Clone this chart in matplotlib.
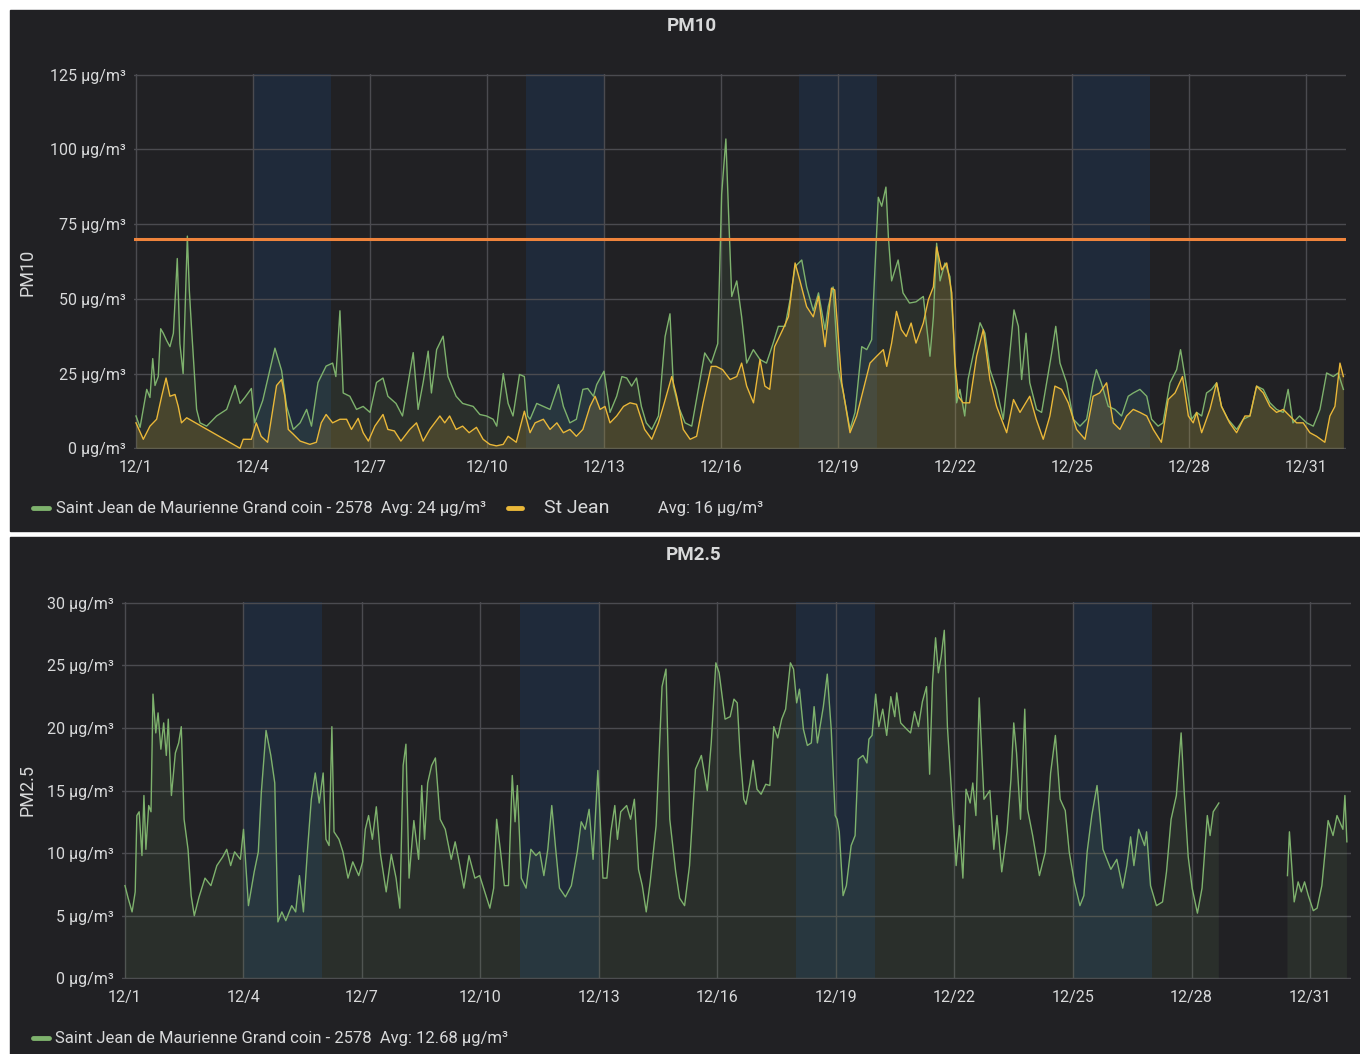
import numpy as np
import pandas as pd
import matplotlib
matplotlib.use("Agg")
import matplotlib.pyplot as plt
import matplotlib.dates as mdates
from matplotlib.lines import Line2D
from matplotlib.patches import Rectangle
from matplotlib.ticker import FixedLocator, FuncFormatter

plt.rcParams["font.family"] = ["Roboto", "DejaVu Sans"]

W, H = 1360, 1054
t0 = pd.Timestamp("2021-12-01 00:00")

# PM10 - Saint Jean de Maurienne Grand coin (hours since 12/1, value)
pm10_green_h = [0, 2.5, 6.6, 8.6, 10.3, 11.7, 13.7, 15.2, 16.8, 18.9, 20.9, 23, 25.4, 27, 29, 31.6, 32.8, 34.2,
                37.3, 39.4, 43.5, 49.6, 55.8, 61, 64, 67, 71, 73, 78, 85.5, 89.6, 92.7, 96.8, 101, 105, 108,
                112, 117, 121, 123, 125.5, 127.5, 131.6, 135.7, 139.8, 144, 148, 152, 155, 160, 164, 170.6,
                173.6, 176.7, 179.8, 181.8, 185, 189, 192, 197, 201, 207.5, 211.6, 215.7, 219.8, 222, 226,
                229, 232, 236, 239, 241, 242.5, 246.6, 250.7, 254.8, 260, 263, 267, 271, 275, 278, 281.5,
                283.5, 288, 291.7, 295.8, 299, 302, 305, 308, 311, 314, 317.4, 321.5, 325.6, 328.6, 330.7,
                333.8, 337.9, 342, 346, 350, 354, 358, 360.4, 363, 364.5, 366.6, 369.7, 372.7, 375.8, 379.9,
                384, 388, 392, 395.3, 399.4, 402.5, 405.6, 409.7, 412.7, 416.8, 420, 424, 426, 429, 432.2,
                435.3, 439.4, 442.5, 446.6, 449.7, 452.7, 456.8, 458.9, 461.5, 463, 465, 469, 472, 476, 480,
                484.5, 488.6, 490.7, 492.7, 494.8, 497.8, 500.9, 503, 505, 507, 510, 512, 515, 519.4, 522.4,
                525.5, 529.6, 533.7, 536.8, 540.3, 543, 545, 547.7, 550, 554.2, 557.3, 560.4, 563.5, 566,
                568.6, 572.7, 576.8, 580.9, 585, 589, 591, 594, 598.3, 602.4, 606.5, 610.6, 613.7, 617.8,
                622, 625, 629, 632, 636.3, 640.4, 642.8, 645.5, 649.6, 652.7, 655.8, 658.8, 661.9, 665, 668,
                672, 677.3, 681.4, 685.5, 689.6, 693.7, 697.8, 701.9, 706, 709, 712, 716, 720.4, 724.5,
                728.6, 732.7, 736.8, 739.8, 743]
pm10_green_v = [10.8, 7, 19.7, 17, 30, 21, 24, 40, 38.5, 36, 34, 38.5, 63.5, 35, 25, 71, 53, 40,
                13, 8.5, 7.4, 10.8, 13, 21, 15, 17, 20, 8.5, 16, 33.5, 26, 14, 6.3, 8.5, 13, 7.4,
                22, 27.5, 28.5, 24, 46, 18.5, 17.4, 13, 14, 12, 22, 23.5, 17.4, 15, 10.8, 32,
                13, 22, 32.5, 18.5, 33, 37.5, 24, 17.4, 15, 14, 11.3, 10.8, 9.7, 7.4, 25,
                15, 10.8, 24.7, 24, 10.8, 9.7, 15, 14, 13, 21.3, 14, 8.5, 9.7, 19.7, 20, 17.4,
                21.3, 25.8, 12, 17.4, 24, 23.5, 20.8, 23.5, 14, 8.5, 6.3, 10.8, 37.4, 45, 20.8,
                14, 8.5, 7.4, 19.7, 31.9, 28.5, 35, 85, 103.5, 81, 50.8, 56, 44, 28.5, 33,
                29.7, 28.5, 35, 40.8, 40.8, 49.7, 60.8, 63, 54, 46, 52, 39.7, 47.4, 54, 26.3,
                18.5, 6.3, 12, 34, 33, 36.3, 84, 81, 87.4, 70.8, 56, 63, 52, 48.6, 49,
                50.8, 30.8, 44, 68.6, 56, 62, 57.4, 39.7, 15.2, 19.7, 10.8, 23, 30.8, 42, 38.5,
                26.3, 19.7, 9.7, 26.3, 46.3, 40.8, 23, 38.5, 21.9, 13, 12, 21.9, 31.9, 40.8,
                28.5, 21.9, 9.7, 7.4, 9.7, 21.9, 26.3, 21.9, 14, 13, 10.8, 17.4, 18.5, 19.7,
                17.4, 9.7, 7.4, 8.5, 21.9, 26.3, 33, 24, 9.7, 12, 10.8, 18.5, 19.7, 21.9, 14,
                9.7, 6.3, 9.7, 10.8, 20.8, 19.7, 15.2, 13, 12, 19.7, 8.5, 10.8, 8.5, 7.4,
                13, 25.2, 24, 25.2, 19.7]

# PM10 - St Jean
pm10_yellow_h = [0, 4.5, 8.6, 12.7, 15.8, 18.5, 20.9, 24, 26, 28, 31.2, 64, 66, 71, 74, 77, 81, 86.5, 89.6,
                 91.6, 93.7, 96.8, 101, 107, 111, 114, 117, 121, 125.5, 129.6, 132.6, 136.7, 139.8, 143, 147,
                 152, 155, 159, 163, 168.5, 172.6, 176.7, 180.8, 187, 190, 193, 197, 201, 205, 209.5, 213.6,
                 217.7, 221.8, 226, 229, 234, 239, 242.5, 245.6, 250.7, 254.8, 259, 263, 267, 271, 275,
                 279.4, 282.5, 285.6, 288.6, 291.7, 295.8, 300, 304, 308, 313, 317.4, 321.5, 324.5, 329.7,
                 332.7, 336.8, 341, 345, 349, 354, 357, 361, 365.6, 369.7, 372.7, 375.8, 380, 384, 387, 390,
                 393, 398, 401.5, 405.6, 408.6, 412.7, 416.8, 420, 424, 428, 430, 434.3, 439.4, 443.5, 447.6,
                 451.7, 455.8, 459.9, 462, 465, 468, 471, 474, 477, 480, 484.5, 487.6, 490.7, 492.7, 495.8,
                 498.9, 502, 504, 506, 509, 513, 517.3, 521.4, 525.5, 529.6, 535.8, 540, 544, 550, 554,
                 558.3, 562.4, 565.5, 569.6, 573.7, 578.8, 584, 589, 593, 597.3, 601.4, 605.5, 609.6, 613.7,
                 617.8, 622, 626, 631, 635.2, 639.4, 644, 647.6, 650.6, 652.7, 655.8, 660.9, 665, 668, 673,
                 677.3, 682.4, 685.5, 689.6, 693.7, 697.8, 701.9, 706, 710, 714.2, 718.3, 722.4, 726.5,
                 731.6, 734.7, 737.8, 740.9, 743]
pm10_yellow_v = [8.5, 3, 7.4, 9.7, 17.4, 23.5, 17.4, 18, 14, 8.5, 10.2, 0, 3, 3, 8.5, 4, 2, 21, 23,
                 17.4, 6.3, 4.7, 2.4, 1.3, 2, 8.5, 11.3, 8.5, 9.7, 9.7, 6.3, 10, 5.2, 2.4, 7.4,
                 11.3, 6.3, 5.8, 2.4, 6.3, 8.5, 2.4, 6.3, 10.8, 8.5, 10.8, 6.3, 7.4, 5.2, 7, 3,
                 1.3, 0.8, 1.3, 4, 2, 12.4, 5.2, 8.5, 9.7, 6.3, 8.5, 5.2, 6.3, 4, 6.3,
                 14, 17.4, 13, 14, 8.5, 10.8, 14, 15.2, 14.7, 6.3, 3, 8.5, 14, 24,
                 17.4, 6.3, 3, 4, 15.2, 27.4, 27.4, 26.3, 23, 24, 28.5, 20.8, 15.2, 29.7, 20.8, 19.7,
                 34, 39.7, 44, 62, 56, 47.4, 44, 50.8, 34, 53.6, 53, 22, 5.2, 10.8, 19.7,
                 28.5, 30.8, 33, 27.4, 35.2, 45.8, 39.7, 37.4, 41.9, 35.2, 41.9, 49.7, 54, 67.4, 59.7,
                 62, 52, 28.5, 17.4, 15.2, 15.2, 30.8, 39.7, 23, 14, 5.2, 16.3, 12, 17.4, 9.7,
                 3, 10.8, 20.8, 19.7, 15.2, 6.3, 3, 17.4, 18.5, 21.9, 8.5, 6.3, 10.8, 13,
                 12, 10.8, 6.3, 2, 16.3, 18.5, 24, 10.8, 8.5, 12, 5.2, 13, 21.9, 14, 8.5,
                 5.2, 10.8, 10.8, 20.8, 18.5, 14, 12, 13, 10.8, 8.5, 8.5, 5.2, 4,
                 2, 10.8, 14, 28.5, 24]

# PM2.5 - Saint Jean de Maurienne Grand coin (nan = no data)
pm25_h = [0, 1.9, 4.3, 6.2, 7.2, 8.6, 10.3, 11.5, 12.7, 14.4, 15.8, 17, 18.7, 20.1, 21.8, 23.5, 25.1, 26.3,
          28.2, 30.6, 32.6, 34.2, 35.9, 38.3, 40.2, 42.1, 45, 48.6, 52.2, 55.8, 59.4, 61.8, 64.2, 66.6,
          70.1, 72, 75, 78.5, 81, 82.8, 85.7, 88.6, 91, 92.9, 95.3, 97.7, 101.3, 103.7, 106, 108.4, 110.8,
          113.2, 115.6, 118, 120.4, 122.1, 124, 125.7, 127, 130, 132.4, 135.5, 138.4, 142, 144.4, 146,
          148, 150.3, 152.7, 155, 158.7, 161.8, 164.7, 167, 169, 170.7, 172.6, 175.5, 178.4, 180.3, 182,
          183.9, 186.3, 188.6, 191.5, 194.6, 198.2, 200.6, 203, 205.9, 209, 212.6, 215.5, 218.6, 221.7,
          224, 225.8, 228.2, 230.5, 233, 235.3, 237, 238.4, 240.8, 243.7, 246.6, 249.7, 252, 254.5,
          256.9, 259.3, 261.7, 264, 267.6, 271.2, 274.8, 277.2, 279.6, 282, 284.4, 287.3, 290.4, 292.8,
          295.2, 297.6, 299.2, 301.2, 304.8, 307.2, 309.5, 312, 314.3, 316.7, 319.1, 322.7, 326.3,
          328.7, 331, 334.6, 337, 340, 343, 346.6, 350.2, 353.8, 356.2, 359, 361, 364.6, 367.7, 370,
          372, 373.7, 376, 377.3, 379.7, 381.6, 384, 386.5, 389.3, 391.8, 394.2, 396.6, 399, 401.4,
          404.3, 406.2, 408.1, 409.8, 412.2, 414.6, 417, 418.7, 420.7, 424.3, 426.7, 429.1, 431.5,
          432.7, 434, 436.3, 438.3, 441.2, 443.6, 445.5, 448.4, 450.8, 452, 453.9, 456.1, 458, 460.4,
          462.8, 465.3, 467.7, 468.9, 471.3, 474.9, 477.3, 479.7, 482.1, 484.5, 487, 488.9, 490.6,
          492.5, 494.2, 495.9, 497.8, 499.7, 502.1, 505, 507, 509.1, 511, 513.5, 515.1, 517, 519,
          521.9, 525.5, 527.9, 529.8, 532.7, 535.9, 538.3, 540, 541.7, 544.1, 546.7, 548.4, 551.5,
          555.6, 559.2, 562.4, 565.3, 568.2, 571.3, 573.7, 576.8, 580.2, 582.6, 584.6, 587.4, 590.6,
          594.2, 596.6, 599, 602.6, 606.2, 608.7, 611, 613, 615.9, 619.5, 620.7, 623.1, 626.7, 630.4,
          632.8, 635.6, 638.8, 641.7, 643.6, 646, 648.4, 651.6, 654.4, 657.6, 659.3, 661.2, 664.6,
          685, 706.3, 707.5, 710.4, 712.8, 714.7, 716.7, 719, 722, 724.3, 727.2, 731, 734, 736.4, 740,
          741.2, 742.4]
pm25_v = [7.4, 6.4, 5.3, 6.9, 13, 13.3, 9.8, 14.6, 10.3, 13.8, 13.3, 22.7, 19.6, 21.2, 18.3, 20.4, 17.8, 20.7,
          14.6, 18, 18.8, 20.1, 12.7, 10.3, 6.6, 5, 6.5, 8, 7.4, 9, 9.7, 10.3, 9, 10.1,
          9.5, 11.9, 5.8, 8.5, 10.1, 14.8, 19.8, 17.8, 15.6, 4.5, 5.3, 4.6, 5.8, 5.3, 8.2, 5.3, 10.1,
          14.3, 16.4, 14, 16.4, 11.1, 10.6, 20.1, 11.7, 11.1, 10.1, 8, 9.3, 8.2, 9.3, 11.9,
          13, 11.1, 13.7, 10.1, 6.9, 9.9, 8, 5.6, 17, 18.7, 8, 12.6, 9.5, 15.4, 11.1,
          15.6, 17, 17.6, 12.7, 11.9, 9.5, 10.9, 9.3, 7.2, 9.8, 8, 8.2, 6.9, 5.6,
          7.2, 12.7, 10.1, 7.4, 7.4, 16.2, 12.5, 15.4, 8, 7.2, 10.3, 9.8, 10.1, 8.2,
          10.3, 13.8, 10.3, 7.2, 6.5, 7.4, 10.1, 12.5, 11.9, 13.5, 9.5, 16.6, 8, 8,
          11.7, 13.8, 11.1, 13.3, 13.8, 12.7, 14.3, 8.7, 7.4, 5.3, 7.7, 12.2, 23.3,
          24.7, 12.7, 8.5, 6.4, 5.8, 9, 16.7, 17.8, 15, 18.8, 25.2, 24.4, 20.7, 20.9, 22.3,
          22, 18, 14.3, 13.9, 15.6, 17.4, 15.1, 14.7, 15.5, 15.4, 20.1, 19.2, 20.7, 21.5,
          25.2, 24.7, 22, 23.1, 19.9, 18.6, 18.8, 21.7, 18.8, 21.7, 24.3, 19.9, 13,
          12.7, 11.7, 6.6, 7.4, 10.6, 11.4, 17.5, 17.8, 17.2, 19.1, 19.4, 22.7, 20.1, 21.5,
          19.4, 22.5, 20.9, 22.8, 20.4, 19.9, 19.6, 21.3, 20.1, 22.1, 23.3, 16.3, 23.6,
          27.2, 24.4, 25.7, 27.8, 20.1, 15.1, 9, 12.2, 8, 15.1, 14, 15.6, 13, 22.4,
          14.3, 15, 10.3, 13, 8.5, 11.7, 15.9, 20.4, 18, 12.7, 21.5, 13.5, 11.4,
          8.2, 10.1, 16.4, 19.4, 14.3, 13.4, 10.1, 7.7, 5.8, 6.6, 10.1, 13, 15.4,
          10.3, 9.5, 8.7, 9.5, 7.2, 9, 11.3, 9, 11.9, 10.6, 11.7, 7.4, 5.8, 6.1,
          8.5, 12.7, 14.6, 19.6, 14.8, 9.7, 7.2, 5.2, 7.2, 13, 11.4, 13.3, 14,
          np.nan, 8.2, 11.7, 6.1, 7.7, 6.9, 7.7, 6.6, 5.4, 5.6, 7.4, 12.6, 11.4, 13, 11.9,
          14.6, 10.9]

weekend_starts = ["2021-12-04", "2021-12-11", "2021-12-18", "2021-12-25"]
tick_dates = ["2021-12-01", "2021-12-04", "2021-12-07", "2021-12-10", "2021-12-13", "2021-12-16",
              "2021-12-19", "2021-12-22", "2021-12-25", "2021-12-28", "2021-12-31"]
threshold_pm10 = 70

pm10_ticks = [0, 25, 50, 75, 100, 125]
pm25_ticks = [0, 5, 10, 15, 20, 25, 30]

bg = "#212124"
grid_c = "#4b4b50"
band_c = "#1f2a3a"
txt_c = "#d8d9da"
green = "#7EB26D"
yellow = "#EAB839"
orange = "#EF843C"


def fx(x):
    return x / W


def fy(y):
    return 1 - y / H


def to_time(hours):
    return t0 + pd.to_timedelta(np.array(hours, dtype=float), unit="h")


def style_axis(ax, ticks, x0_px, px_per_day, left_px, right_px):
    ax.set_facecolor(bg)
    for s in ax.spines.values():
        s.set_visible(False)
    start = t0 + pd.Timedelta(days=(left_px - x0_px) / px_per_day)
    end = t0 + pd.Timedelta(days=(right_px - x0_px) / px_per_day)
    ax.set_xlim(start, end)
    span = ticks[-1] - ticks[0]
    ax.set_ylim(-span * 0.002, ticks[-1] + span * 0.002)
    ax.set_yticks(ticks)
    ax.set_yticklabels([f"{t} µg/m³" for t in ticks])
    ax.xaxis.set_major_locator(FixedLocator(mdates.date2num(pd.to_datetime(tick_dates))))
    ax.xaxis.set_major_formatter(FuncFormatter(
        lambda v, pos: f"{mdates.num2date(v).month}/{mdates.num2date(v).day}"))
    ax.tick_params(length=0, colors=txt_c, labelsize=11.5)
    ax.tick_params(axis="x", pad=8)
    ax.tick_params(axis="y", pad=6)
    ax.grid(True, color=grid_c, lw=1)
    ax.set_axisbelow(True)
    for ws in weekend_starts:
        s = pd.Timestamp(ws)
        ax.axvspan(s, s + pd.Timedelta(days=2), color=band_c, lw=0, zorder=0.2)


fig = plt.figure(figsize=(W / 100, H / 100), dpi=100, facecolor="white")

# panel backgrounds
fig.patches.append(Rectangle((fx(10), fy(531)), fx(1350), 521 / H, transform=fig.transFigure,
                             color=bg, zorder=-10))
fig.patches.append(Rectangle((fx(10), fy(1054)), fx(1350), 517 / H, transform=fig.transFigure,
                             color=bg, zorder=-10))

# ---- PM10 ----
ax1 = fig.add_axes([fx(134), fy(449), fx(1346 - 134), (449 - 74) / H])
style_axis(ax1, pm10_ticks, 136, 39.0, 134, 1346)
tg = to_time(pm10_green_h)
ty = to_time(pm10_yellow_h)
ax1.fill_between(tg, 0, pm10_green_v, color=green, alpha=0.1, lw=0, zorder=1)
ax1.fill_between(ty, 0, pm10_yellow_v, color=yellow, alpha=0.16, lw=0, zorder=1.1)
ax1.plot(tg, pm10_green_v, color=green, lw=1.0, zorder=2)
ax1.plot(ty, pm10_yellow_v, color=yellow, lw=1.0, zorder=2.1)
ax1.axhline(threshold_pm10, color=orange, lw=2.2, zorder=3)

fig.text(fx(692), fy(26), "PM10", ha="center", va="center", color=txt_c, fontsize=13.5, fontweight="bold")
fig.text(fx(28), fy(272), "PM10", ha="center", va="center", rotation=90, color=txt_c, fontsize=13)

fig.add_artist(Line2D([fx(33), fx(49)], [fy(508), fy(508)], color=green, lw=3.5, solid_capstyle="round"))
fig.text(fx(56), fy(508), "Saint Jean de Maurienne Grand coin - 2578  Avg: 24 µg/m³",
         ha="left", va="center", color=txt_c, fontsize=12)
fig.add_artist(Line2D([fx(508), fx(522)], [fy(508), fy(508)], color=yellow, lw=3.5, solid_capstyle="round"))
fig.text(fx(544), fy(508), "St Jean", ha="left", va="center", color=txt_c, fontsize=14)
fig.text(fx(658), fy(508), "Avg: 16 µg/m³", ha="left", va="center", color=txt_c, fontsize=12)

# ---- PM2.5 ----
ax2 = fig.add_axes([fx(122), fy(979), fx(1351 - 122), (979 - 602) / H])
style_axis(ax2, pm25_ticks, 125, 39.5, 122, 1351)
tp = to_time(pm25_h)
pm25_arr = np.array(pm25_v, dtype=float)
ax2.fill_between(tp, 0, pm25_arr, where=~np.isnan(pm25_arr), color=green, alpha=0.1, lw=0, zorder=1)
ax2.plot(tp, pm25_arr, color=green, lw=1.0, zorder=2)

fig.text(fx(694), fy(555), "PM2.5", ha="center", va="center", color=txt_c, fontsize=13.5, fontweight="bold")
fig.text(fx(28), fy(790), "PM2.5", ha="center", va="center", rotation=90, color=txt_c, fontsize=13)

fig.add_artist(Line2D([fx(33), fx(49)], [fy(1038), fy(1038)], color=green, lw=3.5, solid_capstyle="round"))
fig.text(fx(55), fy(1038), "Saint Jean de Maurienne Grand coin - 2578  Avg: 12.68 µg/m³",
         ha="left", va="center", color=txt_c, fontsize=12)

fig.savefig("out.png", dpi=100, facecolor="white")
